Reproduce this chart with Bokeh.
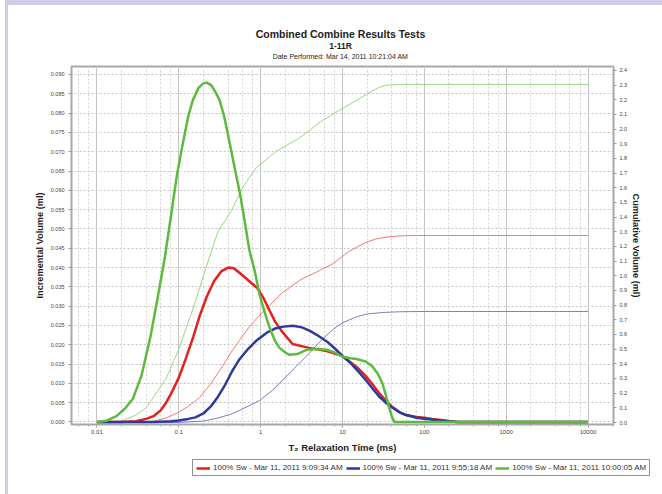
from bokeh.plotting import figure
from bokeh.layouts import column
from bokeh.models import (Range1d, LinearAxis, FixedTicker, NumeralTickFormatter,
                          CustomJSTickFormatter, Label, Legend, LegendItem, LogTicker)
from bokeh.embed import file_html
from bokeh.resources import INLINE

# ---------------- data ----------------
red_t = [0.01, 0.02, 0.03, 0.04, 0.05, 0.06, 0.07, 0.08, 0.1, 0.12, 0.15, 0.18, 0.22, 0.27, 0.33, 0.4,
         0.47, 0.6, 0.75, 0.93, 1.1, 1.29, 1.5, 1.8, 2.45, 3.9, 6.4, 10, 12.5, 15, 19, 23, 28, 33, 40, 50,
         60, 80, 100, 125, 160, 200, 250, 10000]
red_inc = [0, 0, 0.0002, 0.0008, 0.0016, 0.003, 0.005, 0.0072, 0.0115, 0.016, 0.022, 0.0275, 0.0325, 0.0365,
           0.039, 0.04, 0.0398, 0.038, 0.0362, 0.0345, 0.0318, 0.0288, 0.026, 0.0236, 0.0202, 0.0192, 0.0184,
           0.0171, 0.0155, 0.0142, 0.012, 0.0099, 0.0075, 0.0058, 0.004, 0.0025, 0.0018, 0.0013, 0.0011,
           0.0008, 0.0005, 0.0002, 0, 0]

blue_t = [0.01, 0.05, 0.08, 0.1, 0.13, 0.16, 0.2, 0.25, 0.3, 0.37, 0.45, 0.55, 0.7, 0.9, 1.2, 1.5, 1.9,
          2.5, 3.2, 4.0, 5.0, 6.5, 8, 10, 12.5, 15, 19, 23, 28, 33, 40, 50, 60, 80, 105, 140, 200, 260, 10000]
blue_inc = [0, 0, 0.0002, 0.0004, 0.0008, 0.0012, 0.0022, 0.0042, 0.0065, 0.0097, 0.0132, 0.0162, 0.0189,
            0.0212, 0.0232, 0.0242, 0.0247, 0.0249, 0.0245, 0.0236, 0.0224, 0.0208, 0.0191, 0.0171, 0.0153,
            0.0135, 0.011, 0.0088, 0.0066, 0.0052, 0.0038, 0.0025, 0.0018, 0.0011, 0.0008, 0.0005, 0.0002,
            0, 0]

green_t = [0.01, 0.013, 0.0175, 0.022, 0.0275, 0.035, 0.045, 0.055, 0.068, 0.082, 0.095, 0.112, 0.13,
           0.148, 0.175, 0.2, 0.22, 0.25, 0.28, 0.316, 0.36, 0.42, 0.49, 0.56, 0.65, 0.73, 0.85, 0.97, 1.1,
           1.29, 1.5, 1.7, 2.0, 2.26, 2.8, 3.65, 5.0, 6.4, 8, 10, 12.5, 14.8, 19, 23, 27, 30.9, 34, 37.4,
           40, 43, 10000]
green_inc = [0, 0.0003, 0.0016, 0.0035, 0.006, 0.012, 0.022, 0.032, 0.043, 0.0547, 0.064, 0.0721, 0.079,
             0.0833, 0.0866, 0.0877, 0.0879, 0.0872, 0.0855, 0.0833, 0.079, 0.0721, 0.065, 0.0591, 0.051,
             0.0444, 0.039, 0.033, 0.029, 0.0244, 0.021, 0.0192, 0.018, 0.0174, 0.0176, 0.0187, 0.0189,
             0.0187, 0.018, 0.0169, 0.0165, 0.0163, 0.0157, 0.0145, 0.0125, 0.0099, 0.0068, 0.0036, 0.0015,
             0, 0]

red_ct = [0.01, 0.03, 0.05, 0.07, 0.1, 0.13, 0.18, 0.25, 0.33, 0.45, 0.6, 0.8, 1.18, 1.8, 3.0, 5.0, 7.5,
          12.3, 18, 25, 35, 50, 80, 10000]
red_cum = [0, 0, 0.01, 0.03, 0.07, 0.11, 0.17, 0.27, 0.37, 0.49, 0.59, 0.68, 0.78, 0.88, 0.97, 1.03, 1.08,
           1.17, 1.22, 1.25, 1.265, 1.272, 1.275, 1.275]

blue_ct = [0.01, 0.1, 0.2, 0.3, 0.45, 0.7, 0.97, 1.4, 1.86, 2.7, 3.9, 5.5, 7.5, 10, 14.8, 20, 31, 50, 100,
           10000]
blue_cum = [0, 0, 0.01, 0.03, 0.06, 0.11, 0.15, 0.22, 0.29, 0.38, 0.47, 0.56, 0.63, 0.68, 0.72, 0.74, 0.75,
            0.755, 0.757, 0.757]

green_ct = [0.01, 0.012, 0.02, 0.03, 0.04, 0.05, 0.07, 0.1, 0.15, 0.2, 0.3, 0.44, 0.6, 0.89, 1.56, 3.0,
            5.7, 12.3, 20, 28, 35, 50, 10000]
green_cum = [0, 0, 0.01, 0.05, 0.1, 0.18, 0.3, 0.5, 0.78, 1.0, 1.3, 1.445, 1.6, 1.74, 1.85, 1.94, 2.06,
             2.17, 2.24, 2.285, 2.3, 2.305, 2.305]

series_labels = ["100% Sw - Mar 11, 2011 9:09:34 AM",
                 "100% Sw - Mar 11, 2011 9:55:18 AM",
                 "100% Sw - Mar 11, 2011 10:00:05 AM"]
title_lines = ["Combined Combine Results Tests", "1-11R",
               "Date Performed: Mar 14, 2011 10:21:04 AM"]

left_ticks = [i * 0.005 for i in range(19)]
right_ticks = [i * 0.1 for i in range(25)]

FONT = "Liberation Sans"
RED, BLUE, GREEN = "#e3201b", "#2b3a9c", "#5cba3c"
RED_T, BLUE_T, GREEN_T = "#ef6b63", "#6f6fc0", "#8fd077"
LAV = "#cdcde8"

# ---------------- title strip ----------------
pt = figure(width=662, height=60, min_border=0, toolbar_location=None, output_backend="svg",
            x_range=Range1d(0, 1), y_range=Range1d(0, 1), x_axis_location=None,
            y_axis_location=None, title=None, border_fill_color=None, background_fill_color=None)
pt.frame_align = False
pt.grid.visible = False
pt.outline_line_color = None
for txt, yy, size, style in [(title_lines[0], 27, "10.5px", "bold"),
                             (title_lines[1], 15, "8.5px", "bold"),
                             (title_lines[2], 4, "7px", "normal")]:
    pt.add_layout(Label(x=340, y=yy, x_units="screen", y_units="screen", text=txt,
                        text_align="center", text_baseline="middle", text_font=FONT,
                        text_font_size=size, text_font_style=style, text_color="#222222"))

# ---------------- main chart ----------------
p = figure(frame_width=542, frame_height=358, x_axis_type="log",
           x_range=Range1d(0.00489, 20470), y_range=Range1d(-0.00065, 0.09207),
           output_backend="svg", toolbar_location=None, title=None,
           min_border_left=71, min_border_right=49, min_border_top=6, min_border_bottom=32,
           background_fill_color="white", border_fill_color=None)
p.frame_align = False
p.outline_line_color = "#a8a8a8"
p.outline_line_width = 2
p.extra_y_ranges = {"cum": Range1d(-0.0136, 2.427)}

p.xgrid.grid_line_color = "#c4c4c4"
p.xgrid.grid_line_width = 1
p.xgrid.minor_grid_line_color = "#d2d2d2"
p.xgrid.minor_grid_line_dash = "2 2"
p.ygrid.grid_line_color = "#c4c4c4"
p.ygrid.grid_line_dash = "2 2"
p.ygrid.ticker = FixedTicker(ticks=left_ticks)

xa = p.xaxis[0]
xa.ticker = LogTicker(desired_num_ticks=7)
xa.formatter = CustomJSTickFormatter(code="return String(+tick.toPrecision(6));")
xa.axis_label = "T\u2082 Relaxation Time (ms)"
xa.axis_label_text_font = FONT
xa.axis_label_text_font_style = "bold"
xa.axis_label_text_font_size = "9.5px"
xa.axis_label_text_color = "#222222"
xa.axis_label_standoff = 5
xa.major_label_text_font = FONT
xa.major_label_text_font_size = "6px"
xa.major_label_text_color = "#444444"
xa.major_label_standoff = 2
xa.axis_line_color = "#a8a8a8"
xa.major_tick_line_color = "#999999"
xa.minor_tick_line_color = "#aaaaaa"
xa.major_tick_in = 0
xa.major_tick_out = 3
xa.minor_tick_in = 0
xa.minor_tick_out = 2

ya = p.yaxis[0]
ya.ticker = FixedTicker(ticks=left_ticks)
ya.formatter = NumeralTickFormatter(format="0.000")
ya.axis_label = "Incremental Volume (ml)"
ya.axis_label_text_font = FONT
ya.axis_label_text_font_style = "bold"
ya.axis_label_text_font_size = "9.2px"
ya.axis_label_text_color = "#222222"
ya.axis_label_standoff = 3
ya.major_label_text_font = FONT
ya.major_label_text_font_size = "5.5px"
ya.major_label_text_color = "#444444"
ya.major_label_standoff = 4
ya.axis_line_color = "#a8a8a8"
ya.major_tick_line_color = "#999999"
ya.major_tick_in = 0
ya.major_tick_out = 3
ya.minor_tick_line_color = None

ra = LinearAxis(y_range_name="cum", ticker=FixedTicker(ticks=right_ticks),
                formatter=NumeralTickFormatter(format="0.0"))
ra.axis_label = "Cumulative Volume (ml)"
ra.axis_label_text_font = FONT
ra.axis_label_text_font_style = "bold"
ra.axis_label_text_font_size = "9.2px"
ra.axis_label_text_color = "#222222"
ra.axis_label_standoff = 1
ra.major_label_text_font = FONT
ra.major_label_text_font_size = "5.5px"
ra.major_label_text_color = "#444444"
ra.major_label_standoff = 3
ra.axis_line_color = "#a8a8a8"
ra.major_tick_line_color = "#999999"
ra.major_tick_in = 0
ra.major_tick_out = 3
ra.minor_tick_line_color = None
p.add_layout(ra, "right")

p.line(red_ct, red_cum, y_range_name="cum", color=RED_T, line_width=1, line_alpha=0.9)
p.line(blue_ct, blue_cum, y_range_name="cum", color=BLUE_T, line_width=1, line_alpha=0.9)
p.line(green_ct, green_cum, y_range_name="cum", color=GREEN_T, line_width=1, line_alpha=0.9)
p.line(red_t, red_inc, color=RED, line_width=2.5)
p.line(blue_t, blue_inc, color=BLUE, line_width=2.5)
p.line(green_t, green_inc, color=GREEN, line_width=2.5)

# ---------------- legend strip ----------------
pl = figure(width=662, height=38, min_border=0, toolbar_location=None, output_backend="svg",
            x_range=Range1d(0, 1), y_range=Range1d(0, 1), x_axis_location=None,
            y_axis_location=None, title=None, border_fill_color=None, background_fill_color=None)
pl.frame_align = False
pl.grid.visible = False
pl.outline_line_color = None
# legend-only renderers: their points lie outside the strip's visible range
lr = pl.line([5, 6], [5, 6], color=RED, line_width=2.5)
lb = pl.line([5, 6], [5, 6], color=BLUE, line_width=2.5)
lg = pl.line([5, 6], [5, 6], color=GREEN, line_width=2.5)
legend = Legend(items=[LegendItem(label=series_labels[0], renderers=[lr]),
                       LegendItem(label=series_labels[1], renderers=[lb]),
                       LegendItem(label=series_labels[2], renderers=[lg])],
                location=(192, 18), orientation="horizontal",
                label_text_font=FONT, label_text_font_size="8px", label_text_color="#333333",
                glyph_width=14, glyph_height=8, label_standoff=3, spacing=3,
                padding=3, margin=0, border_line_color="#222222", border_line_width=1,
                label_height=8, background_fill_color="white")
pl.add_layout(legend, "center")

# page card: white with a lavender rule along the top and the left edge
card_bg = ("linear-gradient(%s, %s) 5px 0px / 657px 5px no-repeat, "
           "linear-gradient(%s, %s) 5px 0px / 3px 100%% no-repeat, white") % (LAV, LAV, LAV, LAV)
layout = column(pt, p, pl, spacing=0, styles={"background": card_bg})
open("out.html", "w").write(file_html(layout, INLINE))
